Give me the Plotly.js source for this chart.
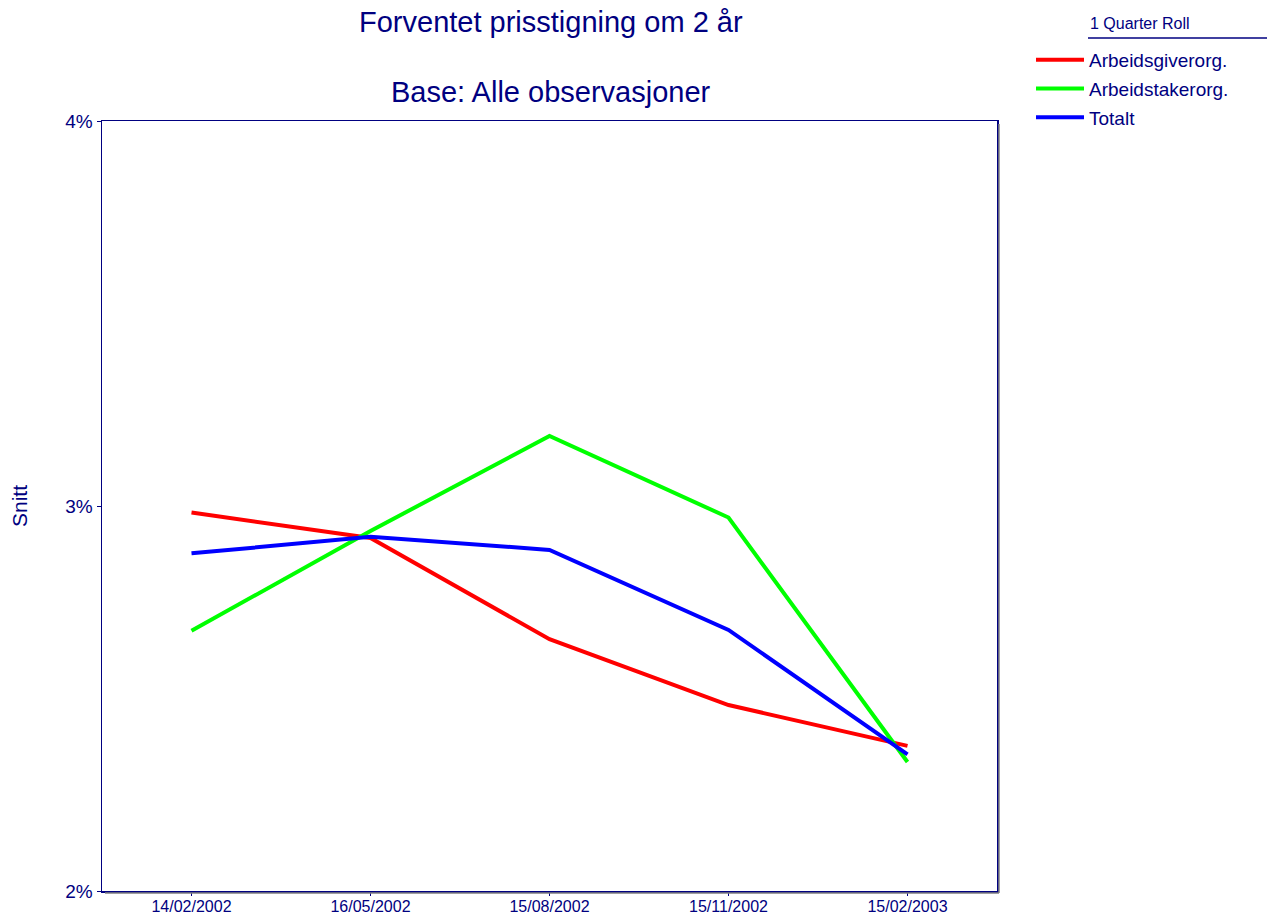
<!DOCTYPE html>
<html>
<head>
<meta charset="utf-8">
<script src="https://cdn.plot.ly/plotly-3.0.1.min.js"></script>
<style>html,body{margin:0;padding:0;background:#fff;}#chart{width:1267px;height:915px;}</style>
</head>
<body>
<div id="chart"></div>
<script>
const categories = ["14/02/2002", "16/05/2002", "15/08/2002", "15/11/2002", "15/02/2003"];
const arbeidsgiverorg = [2.983, 2.917, 2.654, 2.483, 2.377];
const arbeidstakerorg = [2.676, 2.935, 3.182, 2.970, 2.335];
const totalt = [2.877, 2.920, 2.886, 2.678, 2.355];
const seriesNames = ["Arbeidsgiverorg.", "Arbeidstakerorg.", "Totalt"];
const seriesColors = ["#ff0000", "#00ff00", "#0000ff"];
const yTicks = [2, 3, 4];
const yTickLabels = ["2%", "3%", "4%"];
const titleLine1 = "Forventet prisstigning om 2 år";
const titleLine2 = "Base: Alle observasjoner";
const legendTitle = "1 Quarter Roll";

const navy = "#000080";
const font = "Liberation Sans, Arial, sans-serif";
const W = 1267, H = 915, L = 102, R = 997, T = 121, B = 891;
const pw = R - L, ph = B - T;
const px = x => (x - L) / pw;
const py = y => (B - y) / ph;

const values = [arbeidsgiverorg, arbeidstakerorg, totalt];
const traces = values.map((v, i) => ({
  x: categories, y: v, type: "scatter", mode: "lines",
  name: seriesNames[i], legendgroup: "g" + i,
  line: {color: seriesColors[i], width: 4},
  hoverinfo: "skip"
}));

const layout = {
  width: W, height: H,
  margin: {l: L, r: W - R, t: T, b: H - B, pad: 0},
  paper_bgcolor: "#fff", plot_bgcolor: "#fff",
  font: {family: font, color: navy},
  showlegend: true,
  legend: {
    x: px(1031), xanchor: "left", y: py(41), yanchor: "top",
    font: {size: 19, color: navy},
    traceorder: "grouped", tracegroupgap: 1, itemwidth: 48,
    bgcolor: "rgba(0,0,0,0)"
  },
  xaxis: {
    type: "category", range: [-0.5, 4.5],
    showline: true, linecolor: navy, linewidth: 1.5, mirror: true,
    ticks: "outside", ticklen: 3, tickcolor: navy,
    ticklabelstandoff: -3,
    tickfont: {size: 16, color: navy},
    showgrid: false, zeroline: false, fixedrange: true
  },
  yaxis: {
    range: [2, 4], tickvals: yTicks, ticktext: yTickLabels,
    showline: true, linecolor: navy, linewidth: 1.5, mirror: true,
    ticks: "outside", ticklen: 4, tickcolor: navy,
    tickfont: {size: 19, color: navy},
    showgrid: false, zeroline: false, fixedrange: true,
    title: {text: "Snitt", font: {size: 21, color: navy}, standoff: 32}
  },
  annotations: [
    {text: titleLine1, xref: "paper", yref: "paper", x: px(551), y: py(22), xanchor: "center", yanchor: "middle", showarrow: false, font: {size: 29, color: navy}},
    {text: titleLine2, xref: "paper", yref: "paper", x: px(551), y: py(92), xanchor: "center", yanchor: "middle", showarrow: false, font: {size: 29, color: navy}},
    {text: legendTitle, xref: "paper", yref: "paper", x: px(1088), y: py(24), xanchor: "left", yanchor: "middle", showarrow: false, font: {size: 16, color: navy}}
  ],
  shapes: [
    {type: "line", xref: "paper", yref: "paper", x0: px(1088), x1: px(1267), y0: py(38), y1: py(38), line: {color: navy, width: 1.5}},
    {type: "line", xref: "paper", yref: "paper", x0: px(R + 2), x1: px(R + 2), y0: py(B + 2), y1: py(T + 3), line: {color: "#808080", width: 1.5}},
    {type: "line", xref: "paper", yref: "paper", x0: px(L + 3), x1: px(R + 2), y0: py(B + 2), y1: py(B + 2), line: {color: "#808080", width: 1.5}}
  ],
  hovermode: false
};

Plotly.newPlot("chart", traces, layout, {displayModeBar: false, staticPlot: true});
</script>
</body>
</html>
